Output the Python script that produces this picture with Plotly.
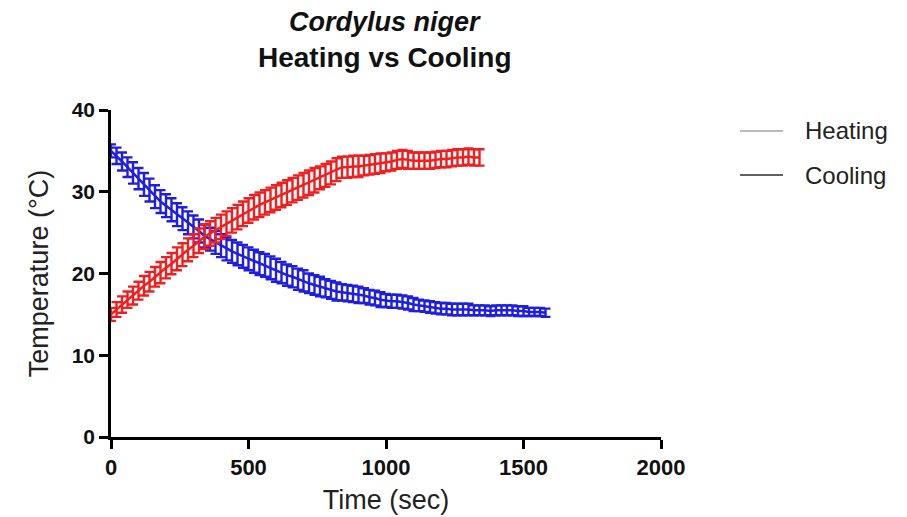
import plotly.graph_objects as go

# Heating run: mean body temperature (°C) and SEM, sampled every 20 s
heat_time = list(range(0, 1341, 20))
heat_temp = [15.0, 15.6, 16.2, 16.8, 17.3, 17.9, 18.5, 19.0, 19.6, 20.1,
             20.7, 21.2, 21.8, 22.3, 22.9, 23.4, 24.0, 24.5, 24.9, 25.3,
             25.7, 26.1, 26.5, 26.9, 27.3, 27.7, 28.1, 28.4, 28.7, 29.0,
             29.3, 29.6, 29.9, 30.2, 30.5, 30.8, 31.1, 31.4, 31.7, 32.0,
             32.3, 32.7, 33.0, 33.0, 33.1, 33.1, 33.2, 33.3, 33.4, 33.5,
             33.6, 33.7, 33.9, 34.0, 33.9, 33.8, 33.8, 33.8, 33.8, 33.9,
             34.0, 34.0, 34.1, 34.2, 34.2, 34.3, 34.2, 34.2]
heat_sem = [0.8, 0.9, 1.0, 1.0, 1.1, 1.1, 1.2, 1.2, 1.2, 1.3,
            1.3, 1.3, 1.4, 1.4, 1.4, 1.4, 1.5, 1.5, 1.5, 1.5,
            1.5, 1.5, 1.5, 1.5, 1.5, 1.5, 1.5, 1.5, 1.5, 1.5,
            1.5, 1.5, 1.5, 1.5, 1.5, 1.5, 1.5, 1.5, 1.4, 1.4,
            1.4, 1.4, 1.3, 1.3, 1.3, 1.3, 1.2, 1.2, 1.2, 1.2,
            1.1, 1.1, 1.1, 1.1, 1.1, 1.0, 1.0, 1.0, 1.0, 1.0,
            1.0, 1.0, 1.0, 1.0, 1.0, 1.0, 1.0, 1.0]

# Cooling run: mean body temperature (°C) and SEM, sampled every 20 s
cool_time = list(range(0, 1581, 20))
cool_temp = [35.0, 34.4, 33.7, 33.0, 32.3, 31.6, 30.9, 30.2, 29.4, 28.8,
             28.3, 27.8, 27.2, 26.7, 26.2, 25.7, 25.2, 24.6, 24.2, 23.8,
             23.4, 23.0, 22.7, 22.4, 22.1, 21.8, 21.5, 21.2, 21.0, 20.7,
             20.4, 20.1, 19.8, 19.6, 19.3, 19.1, 18.8, 18.6, 18.4, 18.2,
             18.0, 17.8, 17.7, 17.6, 17.5, 17.4, 17.3, 17.1, 17.0, 16.8,
             16.7, 16.6, 16.6, 16.5, 16.4, 16.2, 16.1, 16.0, 15.9, 15.8,
             15.7, 15.7, 15.6, 15.6, 15.6, 15.6, 15.5, 15.5, 15.5, 15.4,
             15.5, 15.5, 15.5, 15.5, 15.4, 15.4, 15.3, 15.3, 15.3, 15.2]
cool_sem = [0.8, 1.0, 1.1, 1.2, 1.3, 1.3, 1.4, 1.4, 1.4, 1.4,
            1.4, 1.4, 1.4, 1.4, 1.4, 1.4, 1.4, 1.4, 1.4, 1.4,
            1.4, 1.4, 1.4, 1.4, 1.4, 1.4, 1.4, 1.4, 1.4, 1.4,
            1.4, 1.3, 1.3, 1.3, 1.3, 1.3, 1.2, 1.2, 1.2, 1.1,
            1.1, 1.1, 1.0, 1.0, 1.0, 1.0, 0.9, 0.9, 0.9, 0.9,
            0.8, 0.8, 0.8, 0.8, 0.8, 0.8, 0.7, 0.7, 0.7, 0.7,
            0.7, 0.7, 0.7, 0.7, 0.7, 0.7, 0.6, 0.6, 0.6, 0.6,
            0.6, 0.6, 0.6, 0.6, 0.6, 0.6, 0.5, 0.5, 0.5, 0.5]

x_ticks = [0, 500, 1000, 1500, 2000]
y_ticks = [0, 10, 20, 30, 40]
series_names = ["Heating", "Cooling"]
key_colors = ["rgb(165,165,165)", "rgb(45,45,45)"]

RED = "rgb(240,30,30)"
BLUE = "rgb(30,30,225)"
FONT = "Liberation Sans, Arial, sans-serif"

# plot-area geometry in pixels (used to place the key and the title)
L, R, T, B, W, H = 111, 661, 110, 437, 907, 517


def px_to_paper(px, py):
    return (px - L) / (R - L), (B - py) / (B - T)


fig = go.Figure()

# cooling first so the heating band sits on top where they cross
for t, v, e, col in [(cool_time, cool_temp, cool_sem, BLUE),
                     (heat_time, heat_temp, heat_sem, RED)]:
    fig.add_trace(go.Scatter(
        x=t, y=v, mode="lines", showlegend=False,
        line=dict(color=col, width=2.5),
        error_y=dict(type="data", array=e, visible=True,
                     color=col, thickness=2.4, width=5),
        cliponaxis=False,
    ))

# key at the right of the plot
shapes, annotations = [], []
for i, (name, kc) in enumerate(zip(series_names, key_colors)):
    ky = 131 + 44 * i
    x0, y0 = px_to_paper(740, ky)
    x1, _ = px_to_paper(783, ky)
    xt, _ = px_to_paper(803, ky)
    shapes.append(dict(type="line", xref="paper", yref="paper",
                       x0=x0, x1=x1, y0=y0, y1=y0,
                       line=dict(color=kc, width=1.5)))
    annotations.append(dict(text=name, xref="paper", yref="paper",
                            x=xt, y=y0, xanchor="left", yanchor="middle",
                            showarrow=False,
                            font=dict(size=24, family=FONT, color="#222")))

# two-line title
tx, ty1 = px_to_paper(385, 22)
_, ty2 = px_to_paper(385, 57)
annotations.append(dict(text="<b><i>Cordylus niger</i></b>", xref="paper", yref="paper",
                        x=tx, y=ty1, xanchor="center", yanchor="middle",
                        showarrow=False,
                        font=dict(size=27, family=FONT, color="#111")))
annotations.append(dict(text="<b>Heating vs Cooling</b>", xref="paper", yref="paper",
                        x=tx, y=ty2, xanchor="center", yanchor="middle",
                        showarrow=False,
                        font=dict(size=28, family=FONT, color="#111")))

fig.update_layout(
    width=W, height=H,
    margin=dict(l=L, r=W - R, t=T, b=H - B),
    paper_bgcolor="white", plot_bgcolor="white",
    font=dict(family=FONT, color="black"),
    showlegend=False,
    shapes=shapes, annotations=annotations,
    xaxis=dict(
        range=[0, 2000], tickvals=x_ticks, ticktext=[str(v) for v in x_ticks],
        showgrid=False, zeroline=False, automargin=False,
        showline=True, linecolor="black", linewidth=2.5,
        ticks="outside", ticklen=9, tickwidth=2.5, tickcolor="black",
        tickfont=dict(size=22, family=FONT, color="#111", weight="bold"),
        title=dict(text="Time (sec)", font=dict(size=27, family=FONT, color="#222"),
                   standoff=11),
    ),
    yaxis=dict(
        range=[0, 40], tickvals=y_ticks, ticktext=[str(v) for v in y_ticks],
        showgrid=False, zeroline=False, automargin=False,
        showline=True, linecolor="black", linewidth=2.5,
        ticks="outside", ticklen=9, tickwidth=2.5, tickcolor="black",
        tickfont=dict(size=21, family=FONT, color="#111", weight="bold"),
        title=dict(text="Temperature (°C)", font=dict(size=27, family=FONT, color="#222"),
                   standoff=16),
    ),
)

fig.write_html("out.html")
